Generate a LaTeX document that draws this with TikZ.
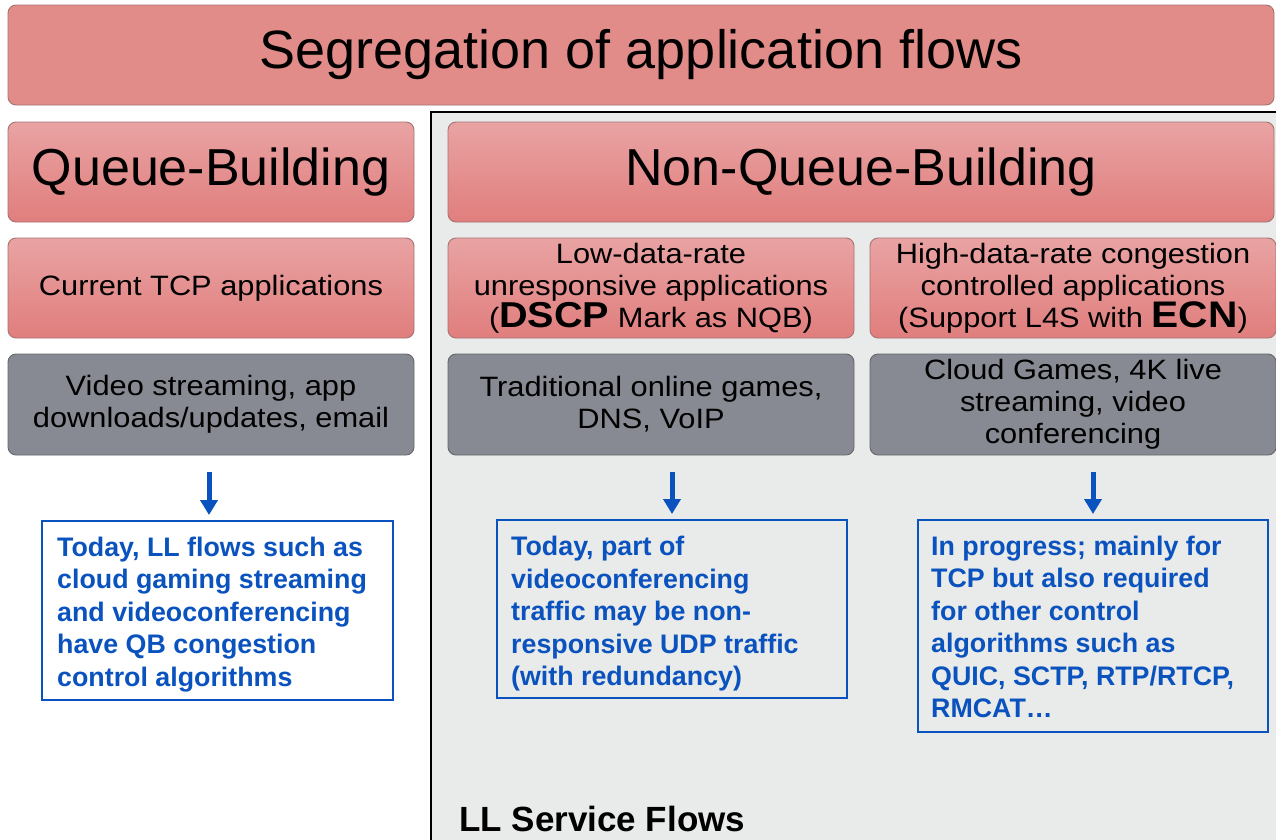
\documentclass[tikz,border=0pt]{standalone}
\usepackage{fontspec}
\setmainfont{Liberation Sans}
\newfontfamily\widefont{Liberation Sans}[FakeStretch=1.1]
\usetikzlibrary{arrows.meta,calc}
\definecolor{pinktop}{RGB}{233,163,163}
\definecolor{pinkbot}{RGB}{224,126,125}
\definecolor{pinkflat}{RGB}{226,140,138}
\definecolor{pinkedge}{RGB}{165,115,115}
\definecolor{grayfill}{RGB}{135,138,146}
\definecolor{grayedge}{RGB}{100,102,108}
\definecolor{regionbg}{RGB}{233,234,234}
\definecolor{llblue}{RGB}{10,82,190}
\begin{document}
\begin{tikzpicture}[x=1pt,y=-1pt,
  pinkbox/.style={draw=pinkedge, line width=0.9pt, rounded corners=8pt,
    top color=pinktop, bottom color=pinkbot, minimum width=406pt,
    minimum height=100pt, inner sep=0pt, align=center, text=black},
  graybox/.style={draw=grayedge, line width=0.9pt, rounded corners=8pt,
    fill=grayfill, minimum width=406pt, minimum height=101pt, inner sep=0pt,
    align=center, text=black},
  smalltext/.style={font=\widefont\fontsize{28}{32}\selectfont},
  bluebox/.style={draw=llblue, line width=2pt, inner sep=0pt},
  bluetext/.style={anchor=west, inner sep=0pt, align=left, text=llblue,
    font=\bfseries\fontsize{26.8}{32.5}\selectfont},
  arr/.style={draw=llblue, line width=5pt, -{Triangle[width=17pt,length=15pt]},
    shorten >=5pt}
]
\useasboundingbox (0,0) rectangle (1276,839);
\fill[white] (0,0) rectangle (1276,839);

% title
\node[draw=pinkedge, line width=0.9pt, rounded corners=8pt, fill=pinkflat,
  minimum width=1266pt, minimum height=100pt, inner sep=0pt,
  font=\fontsize{54}{60}\selectfont] (title) at (641,55)
  {Segregation of application flows};

% LL service region
\fill[regionbg] (431,112) rectangle (1290,850);
\draw[black, line width=2pt] (1290,112) -| (431,850);

% left column
\node[pinkbox, font=\fontsize{52}{60}\selectfont] (qb) at (211,172) {Queue-Building};
\node[pinkbox, smalltext] (cur) at (211,288) {Current TCP applications};
\node[graybox, smalltext] (vid) at (211,404.5) {Video streaming, app\\downloads/updates, email};

% right columns
\node[pinkbox, minimum width=826pt, font=\fontsize{52}{60}\selectfont] (nqb) at (861,172) {Non-Queue-Building};
\node[pinkbox, smalltext] (low) at (651,288)
  {Low-data-rate\\unresponsive applications\\(\textbf{\fontsize{36}{32}\selectfont DSCP} Mark as NQB)};
\node[pinkbox, smalltext] (high) at (1073,288)
  {High-data-rate congestion\\controlled applications\\(Support L4S with \textbf{\fontsize{37}{32}\selectfont ECN})};
\node[graybox, smalltext] (trad) at (651,404.5) {Traditional online games,\\DNS, VoIP};
\node[graybox, smalltext] (cloud) at (1073,404.5) {Cloud Games, 4K live\\streaming, video\\conferencing};

% blue boxes
\node[bluebox, minimum width=351pt, minimum height=179pt] (b1) at (217.5,610.5) {};
\node[bluetext] (t1) at ($(b1.west)+(16,4)$)
  {Today, LL flows such as\\cloud gaming streaming\\and videoconferencing\\have QB congestion\\control algorithms};
\node[bluebox, minimum width=350pt, minimum height=178pt] (b2) at (672,609) {};
\node[bluetext] (t2) at ($(b2.west)+(15,5)$)
  {Today, part of\\videoconferencing\\traffic may be non-\\responsive UDP traffic\\(with redundancy)};
\node[bluebox, minimum width=350pt, minimum height=212pt] (b3) at (1093,626) {};
\node[bluetext] (t3) at ($(b3.west)+(14,1)$)
  {In progress; mainly for\\TCP but also required\\for other control\\algorithms such as\\QUIC, SCTP, RTP/RTCP,\\RMCAT\ldots};

% arrows
\coordinate (a1) at (209,472);
\coordinate (a2) at (672,472);
\coordinate (a3) at (1093,472);
\draw[arr] (a1) -- (a1 |- b1.north);
\draw[arr] (a2) -- (a2 |- b2.north);
\draw[arr] (a3) -- (a3 |- b3.north);

% label
\node[anchor=base west, inner sep=0pt, font=\bfseries\fontsize{35}{40}\selectfont] (ll) at (459,831) {LL Service Flows};
\end{tikzpicture}
\end{document}
